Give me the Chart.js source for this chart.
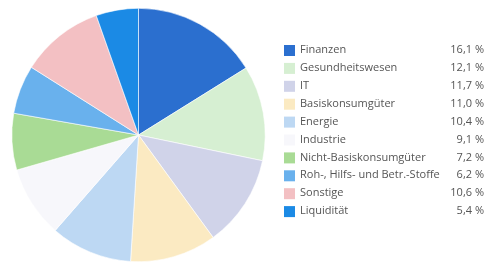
<!DOCTYPE html>
<html>
<head>
<meta charset="utf-8">
<script src="https://cdn.jsdelivr.net/npm/chart.js@4"></script>
<style>
html,body{margin:0;padding:0;background:#fff;}
#wrap{position:relative;width:486px;height:262px;}
</style>
</head>
<body>
<div id="wrap"><canvas id="c" width="486" height="262"></canvas></div>
<script>
const categories = ["Finanzen","Gesundheitswesen","IT","Basiskonsumgüter","Energie","Industrie","Nicht-Basiskonsumgüter","Roh-, Hilfs- und Betr.-Stoffe","Sonstige","Liquidität"];
const values = [16.1,12.1,11.7,11.0,10.4,9.1,7.2,6.2,10.6,5.4];
const valueLabels = ["16,1 %","12,1 %","11,7 %","11,0 %","10,4 %","9,1 %","7,2 %","6,2 %","10,6 %","5,4 %"];
const colors = ["#2b6fcf","#d6efd2","#d0d3e9","#fbeac2","#bdd8f3","#f7f7fb","#a9db95","#69b1ed","#f3c0c3","#1b8ae5"];

const legendPlugin = {
  id: 'sideLegend',
  afterDraw(chart) {
    const ctx = chart.ctx;
    ctx.save();
    ctx.font = '11px "Open Sans", "DejaVu Sans", sans-serif';
    ctx.textBaseline = 'middle';
    const y0 = 50, dy = 17.9;
    categories.forEach((c, i) => {
      const y = y0 + i * dy;
      ctx.fillStyle = colors[i];
      ctx.fillRect(284, y - 5, 11, 11);
      ctx.fillStyle = '#555';
      ctx.textAlign = 'left';
      ctx.fillText(c, 300, y);
      ctx.textAlign = 'right';
      ctx.fillText(valueLabels[i], 484, y);
    });
    ctx.restore();
  }
};

new Chart(document.getElementById('c'), {
  type: 'pie',
  data: {
    labels: categories,
    datasets: [{
      data: values,
      backgroundColor: colors,
      borderColor: '#ffffff',
      borderWidth: 0.6
    }]
  },
  options: {
    responsive: false,
    animation: false,
    layout: { padding: { left: 10, top: 8, right: 219, bottom: 0 } },
    plugins: { legend: { display: false }, tooltip: { enabled: false } }
  },
  plugins: [legendPlugin]
});
</script>
</body>
</html>
